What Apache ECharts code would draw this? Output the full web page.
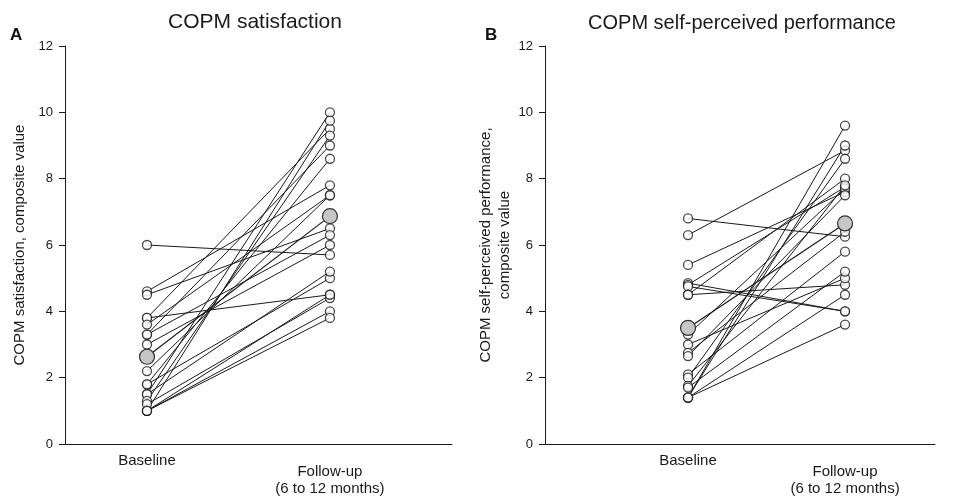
<!DOCTYPE html>
<html>
<head>
<meta charset="utf-8">
<script src="https://cdn.jsdelivr.net/npm/echarts@6/dist/echarts.min.js"></script>
<style>html,body{margin:0;padding:0;background:#fff}#c{width:955px;height:500px}</style>
</head>
<body>
<div id="c"></div>
<script>
var categories = ['Baseline', 'Follow-up\n(6 to 12 months)'];
var yTicks = [0, 2, 4, 6, 8, 10, 12];

// Panel A: COPM satisfaction (per participant: baseline -> follow-up)
var satBaseline = [6.0, 4.6, 4.5, 3.8, 3.8, 3.6, 3.3, 3.3, 3.0, 2.2, 1.8, 1.8, 1.5, 1.5, 1.3, 1.2, 1.0, 1.0, 1.0, 1.0];
var satFollowup = [5.7, 7.8, 6.5, 9.5, 4.5, 7.5, 6.3, 9.0, 6.0, 7.5, 8.6, 5.0, 10.0, 5.2, 9.3, 4.4, 9.75, 4.0, 3.8, 4.5];
var satMean = [2.63, 6.87];

// Panel B: COPM self-perceived performance
var perfBaseline = [6.8, 6.3, 5.4, 4.85, 4.8, 4.75, 4.5, 4.5, 3.3, 3.0, 2.75, 2.65, 2.1, 2.0, 1.75, 1.7, 1.4, 1.4, 1.4, 1.4];
var perfFollowup = [6.25, 8.85, 7.6, 4.0, 7.75, 4.0, 4.8, 8.0, 7.7, 5.0, 6.4, 7.5, 5.8, 8.6, 7.8, 5.2, 9.6, 9.0, 3.6, 4.5];
var perfMean = [3.5, 6.65];

var FONT = 'Liberation Sans, Arial, sans-serif';
var INK = '#1a1a1a';

function xAxisCfg(idx, min, max) {
  return {
    gridIndex: idx, type: 'value', min: min, max: max,
    axisLine: {show: true, onZero: false, lineStyle: {color: INK, width: 1}},
    axisTick: {show: false},
    splitLine: {show: false},
    axisLabel: {
      customValues: [0, 1], margin: 8, fontFamily: FONT, color: INK,
      formatter: function (v) {
        if (v === 0) return '{b|' + categories[0] + '}';
        if (v === 1) {
          var p = categories[1].split('\n');
          return '{s| }\n{f|' + p[0] + '}\n{f|' + p[1] + '}';
        }
        return '';
      },
      rich: {
        b: {fontSize: 15, lineHeight: 18, fontFamily: FONT, color: INK},
        f: {fontSize: 15, lineHeight: 17, fontFamily: FONT, color: INK},
        s: {fontSize: 10, lineHeight: 11}
      }
    }
  };
}
function yAxisCfg(idx, name, gap) {
  return {
    gridIndex: idx, type: 'value', min: 0, max: 12, interval: 2,
    name: name, nameLocation: 'middle', nameGap: gap, nameRotate: 90,
    nameTextStyle: {fontSize: 15, fontFamily: FONT, color: INK, lineHeight: 19},
    axisLine: {show: true, onZero: false, lineStyle: {color: INK, width: 1}},
    axisTick: {show: true, inside: false, length: 6, lineStyle: {color: INK}},
    splitLine: {show: false},
    axisLabel: {fontSize: 13, fontFamily: FONT, color: INK, margin: 12,
      formatter: function (v) { return yTicks.indexOf(v) >= 0 ? String(v) : ''; }}
  };
}

function panelSeries(idx, base, fol, mean) {
  var s = [];
  for (var i = 0; i < base.length; i++) {
    s.push({
      type: 'line', xAxisIndex: idx, yAxisIndex: idx, silent: true, animation: false,
      symbol: 'none', lineStyle: {color: INK, width: 1}, z: 2,
      data: [[0, base[i]], [1, fol[i]]]
    });
  }
  var pts = [];
  for (var j = 0; j < base.length; j++) { pts.push([0, base[j]]); pts.push([1, fol[j]]); }
  s.push({
    type: 'scatter', xAxisIndex: idx, yAxisIndex: idx, animation: false, z: 3,
    symbol: 'circle', symbolSize: 9,
    itemStyle: {color: '#fff', borderColor: INK, borderWidth: 1.3},
    data: pts
  });
  s.push({
    type: 'line', xAxisIndex: idx, yAxisIndex: idx, animation: false, z: 4,
    symbol: 'circle', symbolSize: 15, showAllSymbol: true,
    lineStyle: {color: INK, width: 1.2},
    itemStyle: {color: '#c6c6c6', borderColor: '#333', borderWidth: 1.2},
    data: [[0, mean[0]], [1, mean[1]]]
  });
  return s;
}

var chart = echarts.init(document.getElementById('c'), null, {renderer: 'canvas'});
chart.setOption({
  backgroundColor: '#fff',
  animation: false,
  title: [
    {text: 'COPM satisfaction', left: 255, top: 12, padding: 0, textAlign: 'center',
      textStyle: {fontSize: 21, fontWeight: 'normal', fontFamily: FONT, color: INK}},
    {text: 'COPM self-perceived performance', left: 742, top: 13, padding: 0, textAlign: 'center',
      textStyle: {fontSize: 20, fontWeight: 'normal', fontFamily: FONT, color: INK}},
    {text: 'A', left: 10, top: 27, padding: 0, textStyle: {fontSize: 17, fontWeight: 'bold', fontFamily: FONT, color: '#111'}},
    {text: 'B', left: 485, top: 27, padding: 0, textStyle: {fontSize: 17, fontWeight: 'bold', fontFamily: FONT, color: '#111'}}
  ],
  grid: [
    {left: 65, right: 503, top: 46, bottom: 56},
    {left: 545, right: 20, top: 46, bottom: 56}
  ],
  xAxis: [xAxisCfg(0, -0.448, 1.667), xAxisCfg(1, -0.911, 1.573)],
  yAxis: [
    yAxisCfg(0, 'COPM satisfaction, composite value', 36),
    yAxisCfg(1, 'COPM self-perceived performance,\ncomposite value', 31)
  ],
  series: panelSeries(0, satBaseline, satFollowup, satMean)
    .concat(panelSeries(1, perfBaseline, perfFollowup, perfMean))
});
</script>
</body>
</html>
